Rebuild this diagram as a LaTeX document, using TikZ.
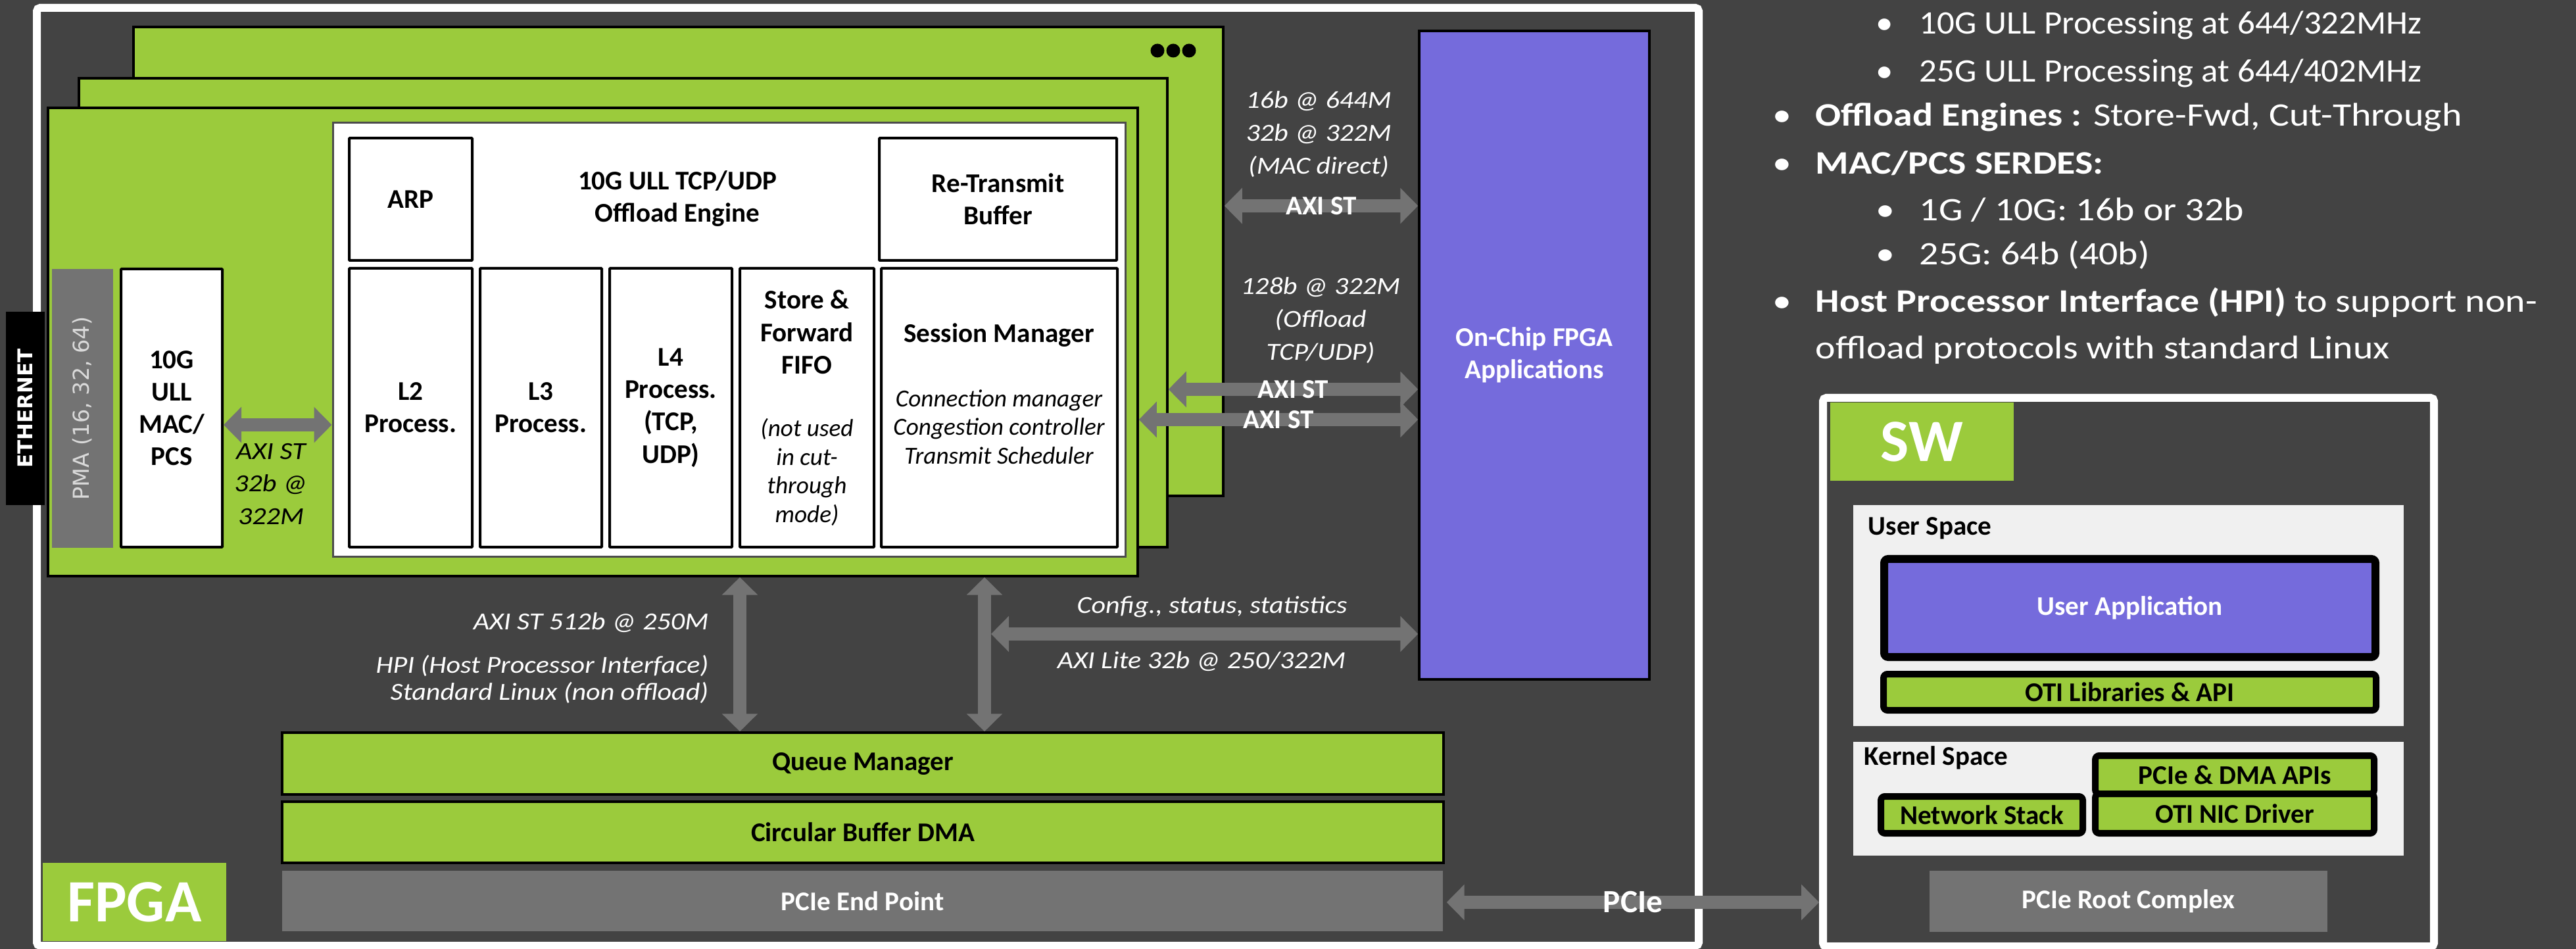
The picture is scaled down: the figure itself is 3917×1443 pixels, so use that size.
\documentclass[tikz,border=0pt]{standalone}
\usepackage{fontspec}
\setmainfont{Carlito}
\newfontfamily\verafont{DejaVu Sans}
\newfontfamily\widefam[FakeStretch=1.13]{Carlito}
\newfontfamily\listwide[FakeStretch=1.16]{Carlito}
\newfontfamily\listnarrow[FakeStretch=1.06]{Carlito}
\usepackage{tikz}
\usetikzlibrary{arrows.meta}

\definecolor{bgdark}{HTML}{434343}
\definecolor{oGreen}{HTML}{9BCB3C}
\definecolor{oPurple}{HTML}{756BDC}
\definecolor{oGray}{HTML}{737373}
\definecolor{oPanel}{HTML}{F0F0F0}
\definecolor{oPma}{HTML}{D9D9D9}

\newcommand{\lblfont}{\fontsize{11.7pt}{14pt}\selectfont\bfseries}
\newcommand{\notefont}{\fontsize{10.6pt}{12.4pt}\selectfont\itshape}
\newcommand{\notewide}{\widefam\fontsize{10.6pt}{14.2pt}\selectfont\itshape}
\newcommand{\bigfont}{\fontsize{26pt}{30pt}\selectfont\bfseries}
\newcommand{\listfont}{\fontsize{14.2pt}{20pt}\selectfont}
\newcommand{\bulA}{\makebox[6.5mm][l]{\textbullet}}
\newcommand{\bulB}{\makebox[6.6mm][l]{\textbullet}}

\begin{document}
\begin{tikzpicture}[
    x=0.1mm, y=-0.1mm,
    every node/.style={inner sep=0pt, text=black},
    frame/.style={draw=white, line width=1.2mm, rounded corners=0.5mm},
    board/.style={draw=black, line width=0.35mm, fill=oGreen},
    blk/.style={draw=black, line width=0.4mm, fill=white, rounded corners=0.1mm, align=center, font=\lblfont},
    swbox/.style={draw=black, line width=1mm, rounded corners=0.6mm, font=\lblfont},
    note/.style={font=\notewide, text=white, align=center},
    innote/.style={font=\notefont, align=center},
    listtxt/.style={font=\listwide\listfont, text=white, anchor=base west},
    arlbl/.style={font=\lblfont, text=white},
    fat/.style={draw=oGray, line width=2mm, {Triangle[length=2.7mm,width=5.3mm]}-{Triangle[length=2.7mm,width=5.3mm]}}
]
\useasboundingbox (0,0) rectangle (3917,1443);
\fill[bgdark] (0,0) rectangle (3917,1443);

% FPGA side
\node[frame, minimum width=252.7mm, minimum height=142.6mm] (fpga) at (1319.5,725) {};

% stacked port boards
\node[board, minimum width=165.7mm, minimum height=71.3mm] (board3) at (1031.5,397.5) {};
\node[board, minimum width=165.5mm, minimum height=71.3mm] (board2) at (947.5,475.5) {};
\node[board, minimum width=165.7mm, minimum height=71.2mm] (board1) at (901.5,520) {};
\foreach \dx in {1760,1784,1808} \fill[black] (\dx,77) circle (1.05mm);

% line side
\node[fill=black, minimum width=5.9mm, minimum height=29.4mm] (eth) at (38.5,621) {};
\node[rotate=90, font=\verafont\bfseries\fontsize{8.8pt}{9pt}\selectfont, text=white] (ethtxt) at (eth.center) {ETHERNET};
\node[fill=oGray, minimum width=9.3mm, minimum height=42.4mm] (pma) at (125.5,621) {};
\node[rotate=90, font=\verafont\fontsize{9.5pt}{10pt}\selectfont, text=oPma] (pmatxt) at (pma.center) {PMA (16, 32, 64)};
\node[blk, minimum width=15.4mm, minimum height=42.3mm] (mac) at (261,620.5) {10G\\ULL\\MAC/\\PCS};

% offload engine
\node[fill=white, draw=gray!60!black, line width=0.3mm, minimum width=120.5mm, minimum height=66mm] (engine) at (1108.5,517) {};
\node[font=\lblfont, align=center] (engtitle) at (1030,302) {10G ULL TCP/UDP\\Offload Engine};
\node[blk, minimum width=18.7mm, minimum height=18.6mm] (arp) at (624.5,303) {ARP};
\node[blk, minimum width=36.1mm, minimum height=18.6mm] (retx) at (1517.5,303) {Re-Transmit\\Buffer};
\node[blk, minimum width=18.7mm, minimum height=42.4mm] (ltwo) at (624.5,620) {L2\\Process.};
\node[blk, minimum width=18.5mm, minimum height=42.4mm] (lthree) at (822.5,620) {L3\\Process.};
\node[blk, minimum width=18.6mm, minimum height=42.4mm] (lfour) at (1020,620) {L4\\Process.\\(TCP,\\UDP)};
\node[blk, minimum width=20.4mm, minimum height=42.4mm] (sfifo) at (1227,620) {};
\node[font=\lblfont, align=center] (sfifohead) at (1227,505) {Store \&\\Forward\\FIFO};
\node[innote] (sfifonote) at (1227,718) {(not used\\in cut-\\through\\mode)};
\node[blk, minimum width=35.9mm, minimum height=42.4mm] (sessmgr) at (1519.5,620) {};
\node[font=\lblfont] (smhead) at (1519,510) {Session Manager};
\node[innote] (smnote) at (1519,649) {Connection manager\\Congestion controller\\Transmit Scheduler};

% fabric
\node[fill=oPurple, draw=black, line width=0.35mm, minimum width=35mm, minimum height=98.6mm, font=\lblfont, text=white, align=center] (apps) at (2333,540) {On-Chip FPGA\\Applications};
\node[board, minimum width=176.6mm, minimum height=9.4mm, font=\lblfont] (qmgr) at (1312,1161) {Queue Manager};
\node[board, minimum width=176.6mm, minimum height=9.3mm, font=\lblfont] (cbdma) at (1312,1265.5) {Circular Buffer DMA};
\node[fill=oGray, minimum width=176.5mm, minimum height=9.2mm, font=\lblfont, text=white] (pcieep) at (1311.5,1370) {PCIe End Point};
\node[fill=oGreen, minimum width=27.9mm, minimum height=11.9mm, font=\bigfont, text=white] (fpgatag) at (204.5,1371.5) {FPGA};

% interface notes
\node[note] (macdirect) at (2005,204) {16b @ 644M\\32b @ 322M\\(MAC direct)};
\node[note] (offload) at (2008,487) {128b @ 322M\\(Offload\\TCP/UDP)};
\node[note] (cfgtxt) at (1843,923) {Config., status, statistics};
\node[note] (litetxt) at (1827,1006) {AXI Lite 32b @ 250/322M};
\node[note, anchor=east] (hpitxt) at (1078,947) {AXI ST 512b @ 250M};
\node[note, font=\notewide\fontsize{10.6pt}{11.7pt}\selectfont, anchor=east, align=right] (hpinote) at (1078,1033) {HPI (Host Processor Interface)\\Standard Linux (non offload)};
\node[note, text=black] (macaxi) at (412,736) {AXI ST\\32b @\\322M};

% SW side
\node[frame, minimum width=92.9mm, minimum height=83.4mm] (sw) at (3236.5,1022) {};
\node[fill=oGreen, minimum width=27.9mm, minimum height=11.9mm, font=\bigfont, text=white] (swtag) at (2922.5,671.5) {SW};
\node[fill=oPanel, minimum width=83.7mm, minimum height=33.6mm] (userspace) at (3236.5,936) {};
\node[font=\lblfont, anchor=west] (userlbl) at (2840,803) {User Space};
\node[swbox, line width=1.2mm, fill=oPurple, text=white, minimum width=74.7mm, minimum height=14.9mm] (userapp) at (3238.5,924.5) {User Application};
\node[swbox, fill=oGreen, minimum width=74.9mm, minimum height=5.5mm] (otilib) at (3238.5,1052.5) {OTI Libraries \& API};
\node[fill=oPanel, minimum width=83.7mm, minimum height=17.3mm] (kernel) at (3236.5,1214.5) {};
\node[font=\lblfont, anchor=west] (kernlbl) at (2834,1152) {Kernel Space};
\node[swbox, fill=oGreen, minimum width=42.4mm, minimum height=5.8mm] (pcieapi) at (3398,1178) {PCIe \& DMA APIs};
\node[swbox, fill=oGreen, minimum width=42.4mm, minimum height=6mm] (nicdrv) at (3398,1237) {OTI NIC Driver};
\node[swbox, fill=oGreen, minimum width=30.7mm, minimum height=5.6mm] (netstack) at (3013.5,1239) {Network Stack};
\node[fill=oGray, minimum width=60.5mm, minimum height=9.3mm, font=\lblfont, text=white] (rootcx) at (3236.5,1370.5) {PCIe Root Complex};

% feature list
\node[listtxt, font=\listnarrow\listfont] (feat1) at (2852,52) {\bulB 10G ULL Processing at 644/322MHz};
\node[listtxt, font=\listnarrow\listfont] (feat2) at (2852,125) {\bulB 25G ULL Processing at 644/402MHz};
\node[listtxt] (feat3) at (2695,192) {\bulA\textbf{Offload Engines :} Store-Fwd, Cut-Through};
\node[listtxt] (feat4) at (2695,265) {\bulA\textbf{MAC/PCS SERDES:}};
\node[listtxt] (feat5) at (2852,336) {\bulB 1G / 10G: 16b or 32b};
\node[listtxt] (feat6) at (2852,403) {\bulB 25G: 64b (40b)};
\node[listtxt] (feat7) at (2695,475) {\bulA\textbf{Host Processor Interface (HPI)} to support non-};
\node[listtxt] (feat8) at (2760,546) {offload protocols with standard Linux};

% buses
\coordinate (axiA) at (0,313);
\coordinate (axiB) at (0,592);
\coordinate (axiC) at (0,638);
\coordinate (macrow) at (0,646);
\coordinate (hpiA) at (1125,0);
\coordinate (hpiB) at (1497,0);
\coordinate (cfgtip) at (1507,964);
\coordinate (pcierow) at (0,1372);

\draw[fat] (mac.east |- macrow) -- (engine.west |- macrow);
\draw[fat] (board3.east |- axiA) -- (apps.west |- axiA) node[midway, arlbl] (axitxtA) {AXI ST};
\draw[fat] (board2.east |- axiB) -- (apps.west |- axiB) node[midway, arlbl] (axitxtB) {AXI ST};
\draw[fat] (board1.east |- axiC) -- (apps.west |- axiC) node[midway, arlbl] (axitxtC) {AXI ST};
\draw[fat] (board1.south -| hpiA) -- (qmgr.north -| hpiA);
\draw[fat] (board1.south -| hpiB) -- (qmgr.north -| hpiB);
\draw[fat] (cfgtip) -- (apps.west |- cfgtip);
\draw[fat] ([xshift=0.5mm]pcieep.east |- pcierow) -- (sw.west |- pcierow) node[midway, font=\fontsize{14pt}{16pt}\selectfont\bfseries, text=white] (pcietxt) {PCIe};

\end{tikzpicture}
\end{document}
